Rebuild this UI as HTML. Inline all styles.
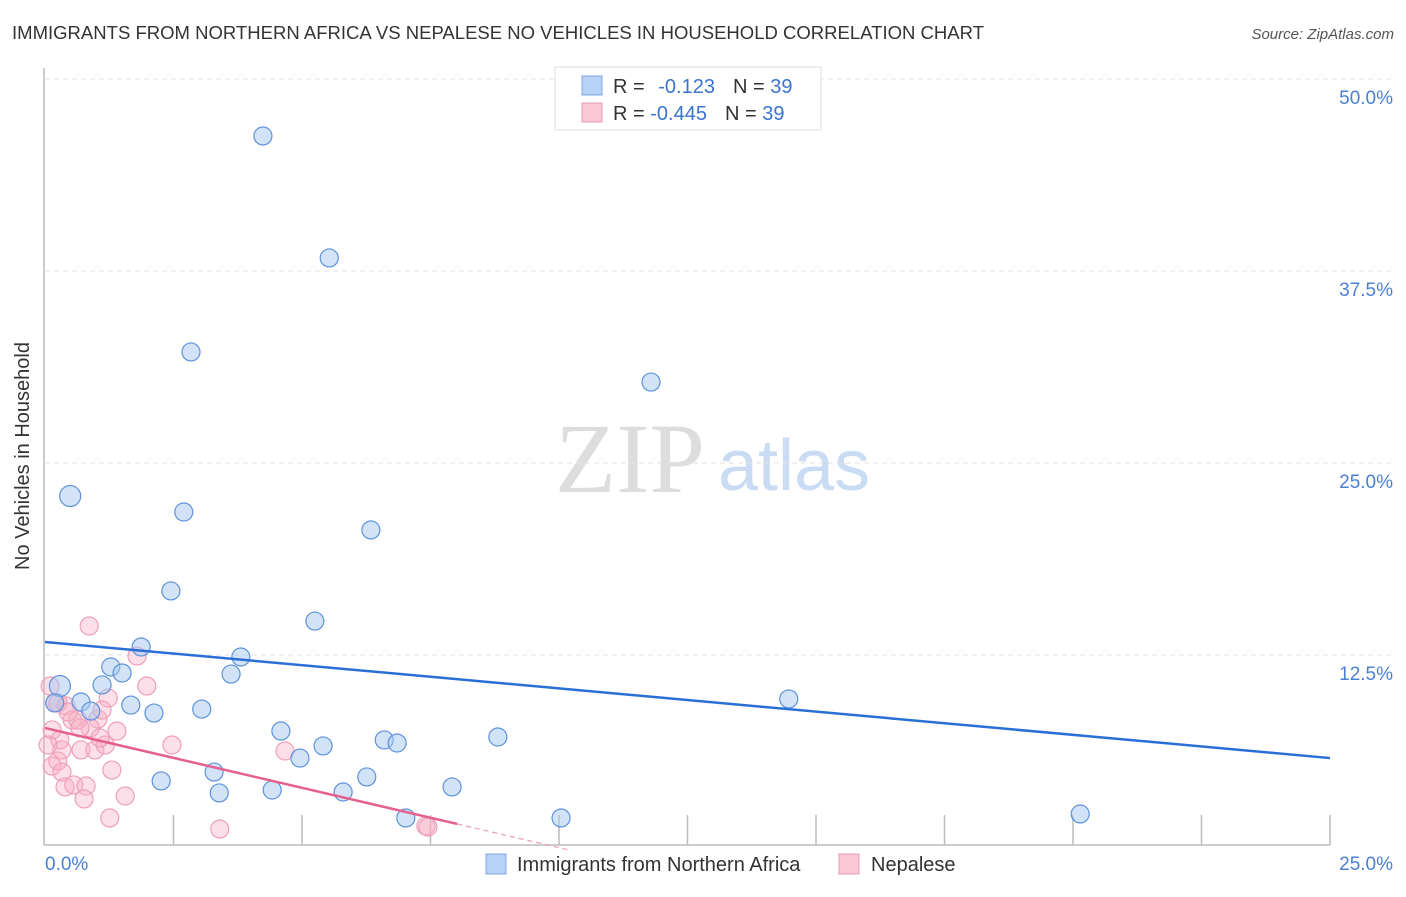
<!DOCTYPE html>
<html><head><meta charset="utf-8"><style>
body{margin:0;background:#fff;font-family:"Liberation Sans",sans-serif;}
</style></head><body>
<svg width="1406" height="892" xmlns="http://www.w3.org/2000/svg" id="svg">
<text x="12" y="39" font-size="18.5" fill="#333" textLength="972">IMMIGRANTS FROM NORTHERN AFRICA VS NEPALESE NO VEHICLES IN HOUSEHOLD CORRELATION CHART</text>
<text x="1394" y="39" font-size="15" fill="#555" font-style="italic" text-anchor="end">Source: ZipAtlas.com</text>
<g>
<text x="555" y="492" font-size="100" font-family="Liberation Serif,serif" fill="#ddd">ZIP</text>
<text x="718" y="490" font-size="72" fill="#c9dcf3">atlas</text>
</g>
<g id="grid"></g>
<line x1="44" y1="68" x2="44" y2="845" stroke="#bbb" stroke-width="1.5"/>
<line x1="44" y1="845" x2="1330" y2="845" stroke="#bbb" stroke-width="1.5"/>
<g id="xticks"></g>
<text x="29" y="456" font-size="20" fill="#333" text-anchor="middle" transform="rotate(-90 29 456)">No Vehicles in Household</text>
<text x="45" y="870" font-size="19" fill="#4a7fd4">0.0%</text>
<text x="1393" y="870" font-size="19" fill="#4a7fd4" text-anchor="end">25.0%</text>
<g id="points"></g>
<g id="lines"></g>
<g>
<rect x="555" y="67" width="266" height="63" fill="#fff" stroke="#ddd"/>
<rect x="582" y="76" width="20" height="19" fill="#b8d2f5" stroke="#7aa5e0"/>
<rect x="582" y="103" width="20" height="19" fill="#fbc8d6" stroke="#eb9ab2"/>
<text x="613" y="93" font-size="20" fill="#333">R = <tspan fill="#3a74d0" dx="8">-0.123</tspan><tspan dx="18" fill="#333">N = </tspan><tspan fill="#3a74d0">39</tspan></text>
<text x="613" y="120" font-size="20" fill="#333">R = <tspan fill="#3a74d0">-0.445</tspan><tspan dx="18" fill="#333">N = </tspan><tspan fill="#3a74d0">39</tspan></text>
</g>
<g>
<rect x="486" y="854" width="20" height="20" fill="#b8d2f5" stroke="#7aa5e0"/>
<text x="517" y="871" font-size="20" fill="#333">Immigrants from Northern Africa</text>
<rect x="839" y="854" width="20" height="20" fill="#fbc8d6" stroke="#eb9ab2"/>
<text x="871" y="871" font-size="20" fill="#333">Nepalese</text>
</g>
</svg>
<script>
const yTicks=[12.5,25,37.5,50];
const yTickLabels=["12.5%","25.0%","37.5%","50.0%"];
const xTicks=[2.5,5,7.5,10,12.5,15,17.5,20,22.5,25];
const blueX=[4.24,5.53,2.84,11.79,0.49,2.70,6.34,2.45,5.25,1.87,3.81,1.28,1.50,3.62,0.29,1.11,14.47,0.70,1.67,0.89,2.12,3.05,4.59,8.81,6.60,6.85,5.41,3.29,4.96,2.26,6.26,3.39,4.42,7.92,5.80,7.02,10.04,20.14,0.19];
const blueY=[46.29,38.35,32.23,30.27,22.85,21.81,20.64,16.67,14.71,13.02,12.37,11.72,11.33,11.26,10.48,10.55,9.64,9.44,9.24,8.85,8.72,8.98,7.55,7.16,6.97,6.77,6.58,4.88,5.79,4.30,4.56,3.52,3.71,3.91,3.58,1.89,1.89,2.15,9.38];
const pinkX=[0.10,0.19,0.86,1.79,1.23,1.98,0.41,0.53,1.03,0.64,0.88,1.40,1.11,0.68,0.14,0.29,0.70,0.97,1.17,2.47,4.67,0.14,0.25,0.33,1.30,0.39,0.56,0.80,0.76,1.56,1.26,3.40,7.41,7.45,0.06,0.25,0.45,1.07,0.33];
const pinkY=[10.48,9.38,14.39,12.43,9.70,10.48,9.18,8.27,8.33,8.27,7.75,7.55,8.92,7.75,7.62,6.97,6.32,6.32,6.64,6.64,6.25,5.27,5.60,4.88,5.01,3.91,4.04,3.97,3.13,3.32,1.89,1.17,1.37,1.30,6.64,9.38,8.79,7.10,6.32];
const blueTrend=[13.35,5.79];
const pinkTrend=[7.75,1.50];
const pinkTrendEnd=[8.02,10.2];

const NS="http://www.w3.org/2000/svg";
function xs(v){return 45+v*51.4;}
function ys(v){return 847-v*15.36;}
function mk(tag,attrs,parent){const e=document.createElementNS(NS,tag);for(const k in attrs)e.setAttribute(k,attrs[k]);parent.appendChild(e);return e;}
const grid=document.getElementById('grid');
yTicks.forEach((t,i)=>{
  const l=mk('line',{x1:45,x2:1394,y1:ys(t),y2:ys(t),stroke:'#e2e2e2','stroke-width':1,'stroke-dasharray':'5,4'},grid);
  
  
  const tx=mk('text',{x:1393,y:ys(t)+25,'font-size':19,fill:'#4a7fd4','text-anchor':'end'},grid);
  tx.textContent=yTickLabels[i];
  
  
});
const xt=document.getElementById('xticks');
xTicks.forEach(t=>{
  const l=mk('line',{x1:xs(t),x2:xs(t),y1:815,y2:845,stroke:'#bbb','stroke-width':1.5},xt);
  
  
});
const pts=document.getElementById('points');
pinkX.forEach((x,i)=>{
  const c=mk('circle',{cx:xs(x),cy:ys(pinkY[i]),r:9,fill:'rgba(248,175,197,0.4)',stroke:'#eea0b8','stroke-width':1.2},pts);
  
  
});
blueX.forEach((x,i)=>{
  const c=mk('circle',{cx:xs(x),cy:ys(blueY[i]),r:(i==4||i==14)?10.5:9,fill:'rgba(165,199,240,0.5)',stroke:'#5d92dc','stroke-width':1.2},pts);
  
  
});
const lines=document.getElementById('lines');
const bl=mk('line',{x1:xs(0),y1:ys(blueTrend[0]),x2:xs(25),y2:ys(blueTrend[1]),stroke:'#2a6fd6','stroke-width':2.5},lines);


const pl=mk('line',{x1:xs(0),y1:ys(pinkTrend[0]),x2:xs(pinkTrendEnd[0]),y2:ys(pinkTrend[1]),stroke:'#e5608c','stroke-width':2.5},lines);


const slope=(pinkTrend[1]-pinkTrend[0])/pinkTrendEnd[0];
const pd=mk('line',{x1:xs(pinkTrendEnd[0]),y1:ys(pinkTrend[1]),x2:xs(pinkTrendEnd[1]),y2:ys(pinkTrend[0]+slope*pinkTrendEnd[1]),stroke:'#e99ab3','stroke-width':1.2,'stroke-dasharray':'5,4'},lines);


</script>
</body></html>
